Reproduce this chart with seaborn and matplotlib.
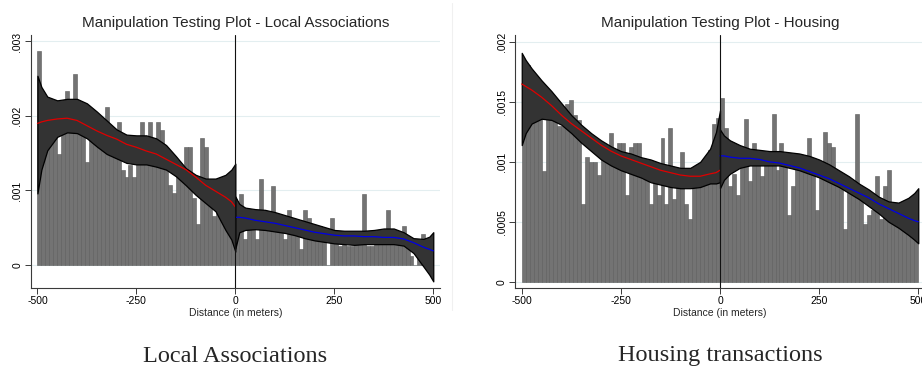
import numpy as np
import pandas as pd
import matplotlib
matplotlib.use("Agg")
import matplotlib.pyplot as plt
from matplotlib.lines import Line2D
import seaborn as sns

sns.set_theme(style="white")
plt.rcParams["font.family"] = ["Liberation Sans", "DejaVu Sans"]

# ---------------- data (densities in units of 0.001) ----------------
SCALE = 1e-3
bin_edges = list(range(-500, 501, 10))

assoc_bars_left = [2.87, 1.90, 2.00, 1.90, 2.05, 1.49, 2.10, 2.34, 2.10, 2.56,
                   2.00, 1.95, 1.38, 1.90, 1.80, 1.85, 1.75, 2.12, 1.70, 1.75,
                   1.92, 1.28, 1.18, 1.34, 1.18, 1.60, 1.92, 1.65, 1.92, 1.65,
                   1.92, 1.81, 1.50, 1.07, 0.96, 1.35, 1.30, 1.59, 1.59, 0.90,
                   0.55, 1.70, 1.59, 1.00, 0.66, 0.90, 0.85, 0.80, 0.70, 0.65]
assoc_bars_right = [0.55, 0.95, 0.35, 0.60, 0.55, 0.35, 1.16, 0.60, 0.55, 1.06,
                    0.55, 0.45, 0.35, 0.74, 0.50, 0.45, 0.22, 0.74, 0.63, 0.45,
                    0.50, 0.52, 0.48, 0.00, 0.63, 0.30, 0.25, 0.30, 0.25, 0.25,
                    0.35, 0.35, 0.95, 0.25, 0.25, 0.35, 0.35, 0.35, 0.74, 0.40,
                    0.35, 0.35, 0.52, 0.25, 0.12, 0.00, 0.30, 0.42, 0.30, 0.20]
housing_bars_left = [1.60, 1.81, 1.73, 1.68, 1.55, 0.92, 1.45, 1.40, 1.35, 1.30,
                     1.30, 1.48, 1.52, 1.39, 1.35, 0.65, 1.04, 1.00, 1.00, 0.89,
                     1.14, 1.00, 1.24, 0.96, 1.16, 1.16, 0.72, 1.12, 1.16, 1.16,
                     0.86, 0.86, 0.65, 0.82, 0.72, 1.20, 0.65, 1.28, 0.69, 0.82,
                     1.08, 0.65, 0.52, 0.85, 0.85, 0.95, 1.00, 1.10, 1.32, 1.37]
housing_bars_right = [1.53, 1.28, 0.80, 0.90, 0.72, 1.00, 1.36, 0.84, 1.16, 1.05,
                      0.88, 1.05, 1.08, 1.40, 0.93, 1.16, 1.05, 0.56, 0.80, 1.00,
                      1.05, 1.00, 1.20, 1.00, 0.60, 1.00, 1.25, 1.16, 1.12, 0.80,
                      0.90, 0.44, 0.82, 0.80, 1.40, 0.75, 0.48, 0.56, 0.60, 0.88,
                      0.52, 0.80, 0.93, 0.60, 0.55, 0.55, 0.50, 0.50, 0.45, 0.45]

# estimation grid
grid_left = [-500, -490, -475, -450, -425, -400, -375, -350, -325, -300, -275, -250,
             -225, -200, -175, -150, -125, -100, -75, -50, -25, -10, 0]
grid_right = [0, 10, 25, 50, 75, 100, 125, 150, 175, 200, 225, 250,
              275, 300, 325, 350, 375, 400, 425, 450, 475, 490, 500]

assoc_fit_left = [1.90, 1.92, 1.94, 1.96, 1.97, 1.94, 1.87, 1.80, 1.74, 1.69, 1.62, 1.58,
                  1.53, 1.49, 1.42, 1.35, 1.28, 1.18, 1.07, 0.99, 0.91, 0.85, 0.78]
assoc_hi_left = [2.54, 2.39, 2.26, 2.21, 2.23, 2.23, 2.17, 2.06, 1.94, 1.82, 1.75, 1.74,
                 1.74, 1.70, 1.61, 1.46, 1.30, 1.21, 1.16, 1.16, 1.21, 1.28, 1.36]
assoc_lo_left = [0.96, 1.28, 1.54, 1.72, 1.78, 1.77, 1.70, 1.59, 1.49, 1.43, 1.37, 1.35,
                 1.35, 1.32, 1.28, 1.19, 1.07, 0.94, 0.83, 0.72, 0.47, 0.34, 0.18]
assoc_fit_right = [0.64, 0.64, 0.63, 0.60, 0.58, 0.56, 0.53, 0.50, 0.47, 0.44, 0.42, 0.40,
                   0.39, 0.39, 0.38, 0.38, 0.37, 0.37, 0.35, 0.30, 0.24, 0.21, 0.19]
assoc_hi_right = [0.92, 0.82, 0.77, 0.75, 0.74, 0.71, 0.67, 0.63, 0.59, 0.55, 0.51, 0.47,
                  0.46, 0.46, 0.46, 0.47, 0.49, 0.49, 0.44, 0.36, 0.35, 0.38, 0.44]
assoc_lo_right = [0.22, 0.44, 0.47, 0.48, 0.47, 0.45, 0.43, 0.40, 0.36, 0.33, 0.31, 0.29,
                  0.28, 0.27, 0.28, 0.28, 0.28, 0.28, 0.26, 0.16, -0.02, -0.13, -0.22]

housing_fit_left = [1.65, 1.63, 1.60, 1.54, 1.47, 1.39, 1.32, 1.26, 1.20, 1.14, 1.09, 1.05,
                    1.02, 0.99, 0.96, 0.93, 0.91, 0.89, 0.88, 0.88, 0.90, 0.91, 0.93]
housing_hi_left = [1.91, 1.85, 1.78, 1.68, 1.59, 1.49, 1.39, 1.31, 1.24, 1.18, 1.13, 1.09,
                   1.07, 1.04, 1.02, 0.99, 0.97, 0.95, 0.95, 1.00, 1.11, 1.25, 1.43]
housing_lo_left = [1.14, 1.24, 1.32, 1.36, 1.35, 1.31, 1.24, 1.16, 1.09, 1.02, 0.97, 0.93,
                   0.90, 0.87, 0.83, 0.81, 0.79, 0.78, 0.78, 0.79, 0.82, 0.82, 0.83]
housing_fit_right = [1.05, 1.05, 1.04, 1.03, 1.03, 1.02, 1.00, 0.99, 0.97, 0.95, 0.92, 0.89,
                     0.86, 0.82, 0.78, 0.74, 0.70, 0.65, 0.61, 0.57, 0.53, 0.51, 0.50]
housing_hi_right = [1.27, 1.22, 1.18, 1.14, 1.11, 1.10, 1.09, 1.09, 1.08, 1.07, 1.05, 1.02,
                    0.98, 0.93, 0.88, 0.82, 0.77, 0.71, 0.67, 0.66, 0.70, 0.74, 0.78]
housing_lo_right = [0.78, 0.85, 0.90, 0.95, 0.97, 0.97, 0.97, 0.97, 0.95, 0.93, 0.90, 0.87,
                    0.83, 0.79, 0.74, 0.69, 0.63, 0.57, 0.50, 0.45, 0.39, 0.35, 0.32]

x_ticks = [-500, -250, 0, 250, 500]
x_tick_labels = ["-500", "-250", "0", "250", "500"]
assoc_y_ticks = [0, 0.001, 0.002, 0.003]
assoc_y_labels = ["0", ".001", ".002", ".003"]
housing_y_ticks = [0, 0.0005, 0.001, 0.0015, 0.002]
housing_y_labels = ["0", ".0005", ".001", ".0015", ".002"]

titles = ["Manipulation Testing Plot - Local Associations",
          "Manipulation Testing Plot - Housing"]
captions = ["Local Associations", "Housing transactions"]
x_label = "Distance (in meters)"

# ---------------- figure ----------------
W, H = 922, 378
fig = plt.figure(figsize=(W / 100, H / 100), dpi=100)
fig.patch.set_facecolor("white")

BAR_FACE = "#737373"
BAR_EDGE = "#5a5a5a"
BAND = "#333333"
AX_COL = "#3a3a3a"


def panel(rect, bars_l, bars_r, fit_l, hi_l, lo_l, fit_r, hi_r, lo_r,
          yticks, ylabels, ylim, title, caption, cx):
    ax = fig.add_axes(rect)
    centers = [e + 5 for e in bin_edges[:-1]]
    df = pd.DataFrame({"center": centers,
                       "density": [v * SCALE for v in (bars_l + bars_r)]})
    sns.histplot(data=df, x="center", weights="density", bins=bin_edges,
                 color=BAR_FACE, edgecolor=BAR_EDGE, linewidth=0.4, alpha=1.0,
                 ax=ax, zorder=2)
    for g, fit, hi, lo, col in ((grid_left, fit_l, hi_l, lo_l, "#e00000"),
                                (grid_right, fit_r, hi_r, lo_r, "#0000e6")):
        ax.fill_between(g, [v * SCALE for v in lo], [v * SCALE for v in hi],
                        facecolor=BAND, edgecolor="black", linewidth=0.9, zorder=3)
        sns.lineplot(x=g, y=[v * SCALE for v in fit], color=col, linewidth=0.9,
                     ax=ax, zorder=4)
    ax.axvline(0, color="#111111", linewidth=0.8, zorder=5)

    ax.set_xlim(-517, 517)
    ax.set_ylim(*ylim)
    ax.set_xticks(x_ticks)
    ax.set_xticklabels(x_tick_labels)
    ax.set_yticks(yticks)
    ax.set_yticklabels(ylabels, rotation=90, va="center")
    ax.set_xlabel(x_label, fontsize=7.5, labelpad=1)
    ax.set_ylabel("")
    ax.yaxis.grid(True, color="#e3eef0", linewidth=0.8)
    ax.xaxis.grid(False)
    ax.set_axisbelow(True)
    for s in ("top", "right"):
        ax.spines[s].set_visible(False)
    for s in ("left", "bottom"):
        ax.spines[s].set_color(AX_COL)
        ax.spines[s].set_linewidth(0.8)
    ax.tick_params(axis="both", which="major", direction="out", length=4,
                   width=0.7, color=AX_COL, labelsize=7.5, pad=2,
                   labelcolor="black", bottom=True, left=True)
    ax.set_facecolor("white")
    fig.text(cx / W, 1 - 23 / H, title, ha="center", va="center", fontsize=11)
    fig.text(cx / W, 1 - 356 / H, caption, ha="center", va="center",
             fontsize=17.5, family=["Liberation Serif", "DejaVu Serif"])
    return ax


bottom = 1 - 288 / H
height = 253 / H
panel([30.7 / W, bottom, 409.3 / W, height],
      assoc_bars_left, assoc_bars_right,
      assoc_fit_left, assoc_hi_left, assoc_lo_left,
      assoc_fit_right, assoc_hi_right, assoc_lo_right,
      assoc_y_ticks, assoc_y_labels, (-0.000309, 0.003087),
      titles[0], captions[0], 235.5)
panel([515 / W, bottom, 410 / W, height],
      housing_bars_left, housing_bars_right,
      housing_fit_left, housing_hi_left, housing_lo_left,
      housing_fit_right, housing_hi_right, housing_lo_right,
      housing_y_ticks, housing_y_labels, (-0.000053, 0.002059),
      titles[1], captions[1], 720.0)

# faint border of the left graph image
fig.add_artist(Line2D([452 / W, 452 / W], [1 - 3 / H, 1 - 310 / H],
                      transform=fig.transFigure, color="#f0f0f0", linewidth=0.8))

fig.savefig("out.png", dpi=100, facecolor="white")
